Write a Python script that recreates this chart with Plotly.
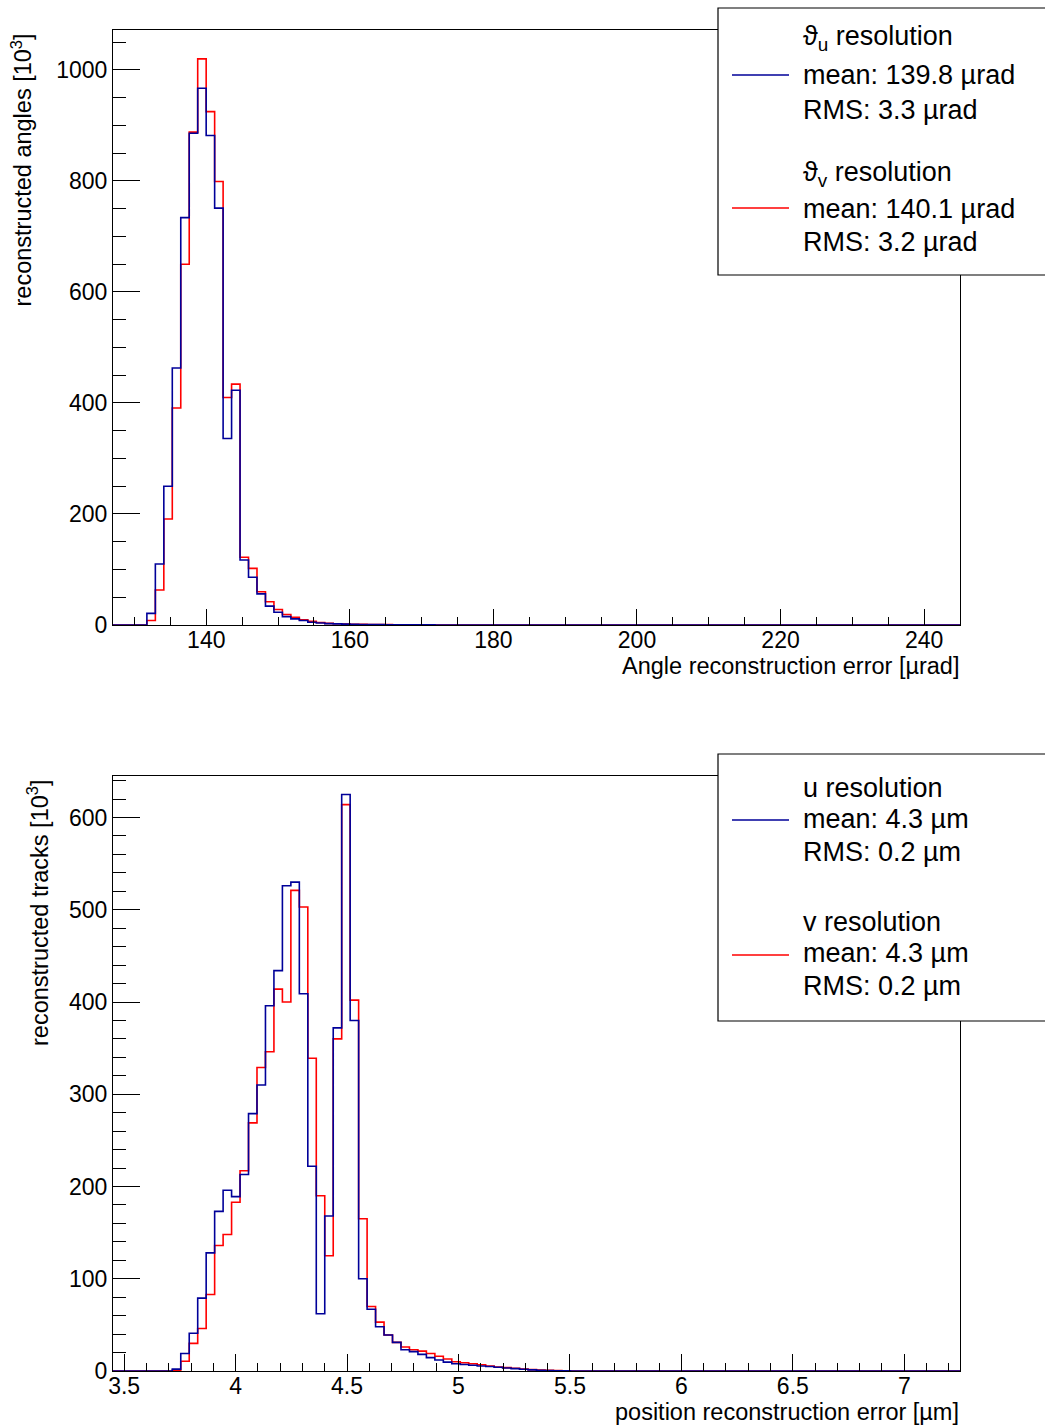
import numpy as np
import plotly.graph_objects as go

# ---------------- data ----------------
# Top histogram: angle reconstruction error [urad], 100 bins from 127 to 245
ang_lo, ang_hi, ang_nbins = 127.0, 245.0, 100
ang_u = [0, 0, 0, 0, 21, 110, 250, 463, 734, 886, 967, 882, 751, 336, 423, 117, 86, 56, 34, 23,
         15, 11, 8, 5, 3.5, 2.5, 2, 1.5, 1.2, 1.0, 0.8, 0.6, 0.5, 0.4, 0.3, 0.25, 0.2, 0.15, 0.1, 0.1,
         0.05, 0.05] + [0] * 58
ang_v = [0, 0, 0, 0, 8, 63, 191, 391, 650, 888, 1020, 925, 799, 410, 434, 122, 102, 60, 42, 28,
         19, 14, 9.5, 6.5, 4.5, 3, 2.3, 1.8, 1.4, 1.1, 0.9, 0.7, 0.6, 0.5, 0.4, 0.3, 0.2, 0.15, 0.1, 0.1,
         0.05, 0.05] + [0] * 58

# Bottom histogram: position reconstruction error [um], 100 bins from 3.45 to 7.25
pos_lo, pos_hi, pos_nbins = 3.45, 7.25, 100
pos_u = [0, 0, 0, 0, 0, 0, 0, 2, 19, 41, 79, 128, 173, 196, 189, 213, 279, 310, 396, 434,
         526, 530, 409, 222, 62, 168, 372, 625, 380, 100, 67, 48, 39, 31, 23, 21, 18, 14.5, 12, 9.6,
         7.8, 7, 6.3, 5.5, 4.8, 4, 3.3, 2.6, 1.9, 1.2, 0.8, 0.5, 0.3, 0.2] + [0] * 46
pos_v = [0, 0, 0, 0, 0, 0, 0, 1, 10.5, 30, 46, 83, 136, 148, 183, 217, 269, 329, 346, 414,
         400, 521, 503, 339, 190, 125, 360, 614, 402, 165, 70, 53, 39, 31, 26, 23, 21.5, 19, 16, 13,
         10, 9, 7.8, 6.7, 5.5, 4.4, 3.7, 3, 2.2, 1.5, 1, 0.7, 0.4, 0.2] + [0] * 46

ang_legend_u = ["ϑ<sub>u</sub> resolution", "mean: 139.8 µrad", "RMS: 3.3 µrad"]
ang_legend_v = ["ϑ<sub>v</sub> resolution", "mean: 140.1 µrad", "RMS: 3.2 µrad"]
pos_legend_u = ["u resolution", "mean: 4.3 µm", "RMS: 0.2 µm"]
pos_legend_v = ["v resolution", "mean: 4.3 µm", "RMS: 0.2 µm"]

BLUE = "#000099"
RED = "#ff0000"
FONT = "Liberation Sans, Arial, sans-serif"

W, H = 1045, 1428
ML, MR, MT, MB = 113, 85, 30, 57
PW, PH = W - ML - MR, H - MT - MB


def px(x):
    return (x - ML) / PW


def py(y):
    return (H - MB - y) / PH


def step(lo, hi, n, vals):
    edges = np.linspace(lo, hi, n + 1)
    ys = list(vals) + [vals[-1]]
    return edges, ys


fig = go.Figure()

e, y = step(ang_lo, ang_hi, ang_nbins, ang_v)
fig.add_trace(go.Scatter(x=e, y=y, mode="lines", line=dict(color=RED, width=1.6, shape="hv"),
                         xaxis="x", yaxis="y", showlegend=False, hoverinfo="skip"))
e, y = step(ang_lo, ang_hi, ang_nbins, ang_u)
fig.add_trace(go.Scatter(x=e, y=y, mode="lines", line=dict(color=BLUE, width=1.6, shape="hv"),
                         xaxis="x", yaxis="y", showlegend=False, hoverinfo="skip"))
e, y = step(pos_lo, pos_hi, pos_nbins, pos_v)
fig.add_trace(go.Scatter(x=e, y=y, mode="lines", line=dict(color=RED, width=1.6, shape="hv"),
                         xaxis="x2", yaxis="y2", showlegend=False, hoverinfo="skip"))
e, y = step(pos_lo, pos_hi, pos_nbins, pos_u)
fig.add_trace(go.Scatter(x=e, y=y, mode="lines", line=dict(color=BLUE, width=1.6, shape="hv"),
                         xaxis="x2", yaxis="y2", showlegend=False, hoverinfo="skip"))

tickfont = dict(family=FONT, size=23, color="black")
common = dict(showline=True, linecolor="black", linewidth=1.2, mirror=True, showgrid=False,
              zeroline=False, ticks="inside", tickcolor="black", tickwidth=1.2, tickfont=tickfont)

top_dom = [py(625), 1.0]
bot_dom = [0.0, py(776)]

fig.update_layout(
    width=W, height=H, margin=dict(l=ML, r=MR, t=MT, b=MB, autoexpand=False),
    paper_bgcolor="white", plot_bgcolor="white", showlegend=False,
    xaxis=dict(domain=[0, 1], anchor="y", range=[ang_lo, ang_hi], dtick=20, tick0=0, ticklen=16,
               ticklabelstandoff=-6,
               minor=dict(ticks="inside", dtick=5, tick0=0, ticklen=8, tickcolor="black", tickwidth=1.2),
               **common),
    yaxis=dict(domain=top_dom, anchor="x", range=[0, 1072], dtick=200, ticklen=27,
               minor=dict(ticks="inside", dtick=50, ticklen=13, tickcolor="black", tickwidth=1.2),
               **common),
    xaxis2=dict(domain=[0, 1], anchor="y2", range=[pos_lo, pos_hi], dtick=0.5, tick0=0, ticklen=17,
                ticklabelstandoff=-6,
                minor=dict(ticks="inside", dtick=0.1, tick0=0, ticklen=8, tickcolor="black", tickwidth=1.2),
                **common),
    yaxis2=dict(domain=bot_dom, anchor="x2", range=[0, 645], dtick=100, ticklen=27,
                minor=dict(ticks="inside", dtick=20, ticklen=13, tickcolor="black", tickwidth=1.2),
                **common),
)

annos = []
titlefont = dict(family=FONT, size=23.5, color="black")
# axis titles
annos.append(dict(text="Angle reconstruction error [µrad]", x=px(961), y=py(666), xref="paper", yref="paper",
                  xanchor="right", yanchor="middle", showarrow=False, font=titlefont))
annos.append(dict(text="position reconstruction error [µm]", x=px(961), y=py(1412), xref="paper", yref="paper",
                  xanchor="right", yanchor="middle", showarrow=False, font=titlefont))
annos.append(dict(text="reconstructed angles [10<sup>3</sup>]", x=px(22), y=py(32), xref="paper", yref="paper",
                  xanchor="center", yanchor="top", textangle=-90, showarrow=False, font=titlefont))
annos.append(dict(text="reconstructed tracks [10<sup>3</sup>]", x=px(38), y=py(778), xref="paper", yref="paper",
                  xanchor="center", yanchor="top", textangle=-90, showarrow=False, font=titlefont))

shapes = []
legfont = dict(family=FONT, size=27, color="black")


def add_legend(top, bottom, lines_u, lines_v, ys_u, ys_v, line_y_u, line_y_v):
    shapes.append(dict(type="rect", xref="paper", yref="paper", x0=px(718), x1=px(1070),
                       y0=py(bottom), y1=py(top), line=dict(color="black", width=1.2),
                       fillcolor="white", layer="above"))
    shapes.append(dict(type="line", xref="paper", yref="paper", x0=px(732), x1=px(789),
                       y0=py(line_y_u), y1=py(line_y_u), line=dict(color=BLUE, width=1.6), layer="above"))
    shapes.append(dict(type="line", xref="paper", yref="paper", x0=px(732), x1=px(789),
                       y0=py(line_y_v), y1=py(line_y_v), line=dict(color=RED, width=1.6), layer="above"))
    for txt, yy in zip(lines_u + lines_v, ys_u + ys_v):
        annos.append(dict(text=txt, x=px(801), y=py(yy), xref="paper", yref="paper",
                          xanchor="left", yanchor="middle", showarrow=False, font=legfont))


add_legend(8, 275, ang_legend_u, ang_legend_v, [38, 75, 110], [174, 209, 242], 75, 208)
add_legend(754, 1021, pos_legend_u, pos_legend_v, [788, 819, 852], [922, 953, 986], 820, 955)

fig.update_layout(annotations=annos, shapes=shapes)
fig.write_html("out.html", config={"displayModeBar": False},
               post_script="document.body.style.margin='0';document.body.style.overflow='hidden';")
